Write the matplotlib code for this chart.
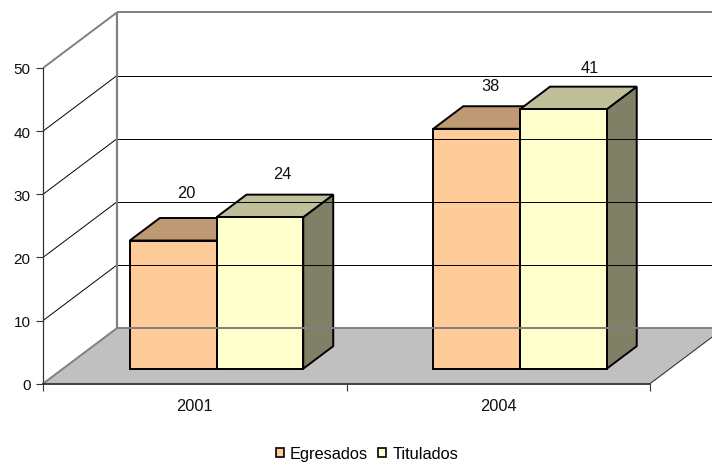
import matplotlib
matplotlib.use('Agg')
import matplotlib.pyplot as plt
from matplotlib.patches import Polygon, Patch

plt.rcParams['font.family'] = ['Liberation Sans', 'DejaVu Sans']

years = ['2001', '2004']
egresados = [20.3, 38]
titulados = [24, 41.1]
y_ticks = [0, 10, 20, 30, 40, 50]

colors = {
    'Egresados': ('#FFCC99', '#BF9973', '#BF9973'),
    'Titulados': ('#FFFFCC', '#BFBF99', '#808066'),
}

W, H = 712, 464
fig = plt.figure(figsize=(W / 100, H / 100), dpi=100)
ax = fig.add_axes([43 / W, 1 - 384.7 / H, 607 / W, 315.7 / H])
ax.set_xlim(0, 2)
ax.set_ylim(0, 50)
ax.patch.set_visible(False)

# depth of the fake 3d box, in axis units
DX = 74 / 303.5
DY = 55.6 / 6.314


def proj(x, y, d):
    return (x + DX * d, y + DY * d)


def poly(points, **kw):
    ax.add_patch(Polygon(points, closed=True, clip_on=False, **kw))


def line(a, b, color, lw):
    ax.plot([a[0], b[0]], [a[1], b[1]], color=color, lw=lw, clip_on=False,
            solid_capstyle='butt')


# floor
poly([proj(0, 0, 0), proj(2, 0, 0), proj(2, 0, 1), proj(0, 0, 1)],
     facecolor='#C0C0C0', edgecolor='none')
line(proj(0, 0, 1), proj(2, 0, 1), '#808080', 1.4)
line(proj(0, 0, 0), proj(0, 0, 1), '#808080', 1.4)
line(proj(2, 0, 0), proj(2, 0, 1), '#222222', 0.7)

# walls and gridlines
for v in y_ticks[1:-1]:
    line(proj(0, v, 0), proj(0, v, 1), 'black', 0.7)
    line(proj(0, v, 1), proj(2, v, 1), 'black', 0.7)
line(proj(0, 50, 0), proj(0, 50, 1), '#808080', 1.4)
line(proj(0, 50, 1), proj(2, 50, 1), '#808080', 1.4)
line(proj(0, 0, 1), proj(0, 50, 1), '#808080', 1.6)

# bars
bar_w = 1 / 3.5
gap = 0.75 * bar_w + 0.006
d0, d1 = 0.27, 0.675


def bar3d(x, v, c):
    kw = dict(edgecolor='black', lw=1.4, joinstyle='miter')
    poly([proj(x + bar_w, 0, d0), proj(x + bar_w, 0, d1), proj(x + bar_w, v, d1), proj(x + bar_w, v, d0)],
         facecolor=c[2], **kw)
    poly([proj(x, v, d0), proj(x + bar_w, v, d0), proj(x + bar_w, v, d1), proj(x, v, d1)],
         facecolor=c[1], **kw)
    poly([proj(x, 0, d0), proj(x + bar_w, 0, d0), proj(x + bar_w, v, d0), proj(x, v, d0)],
         facecolor=c[0], **kw)


# label shift in pixels, from the front-top centre of each bar
label_shift = [(13, 48), (22, 44), (14, 43), (26, 42)]
k = 0
for i in range(len(years)):
    for j, (name, vals) in enumerate([('Egresados', egresados), ('Titulados', titulados)]):
        x = i + gap + j * bar_w
        bar3d(x, vals[i], colors[name])
        ax.annotate('%.0f' % vals[i], proj(x + bar_w / 2, vals[i], d0), xytext=label_shift[k],
                    textcoords='offset pixels', ha='center', va='center', fontsize=11.8,
                    color='#111111', annotation_clip=False)
        k += 1

# axes
for s in ['top', 'right']:
    ax.spines[s].set_visible(False)
ax.spines['left'].set_color('#333333')
ax.spines['left'].set_linewidth(0.9)
ax.spines['bottom'].set_color('#333333')
ax.spines['bottom'].set_linewidth(1.3)
ax.set_yticks(y_ticks)
ax.tick_params(axis='y', length=5, width=0.8, color='#333333', labelsize=11, pad=4, labelcolor='#111111')
ax.set_xticks([0, 1, 2])
ax.set_xticklabels([])
ax.tick_params(axis='x', which='major', length=5, width=0.8, color='#333333')
ax.set_xticks([0.5, 1.5], minor=True)
ax.set_xticklabels(years, minor=True, fontsize=11.8, color='#111111')
ax.tick_params(axis='x', which='minor', length=0, pad=10)

handles = [Patch(facecolor=colors[n][0], edgecolor='black', lw=1.2, label=n) for n in colors]
fig.legend(handles=handles, loc='center', bbox_to_anchor=(367 / W, 1 - 454.5 / H), ncol=2, frameon=False,
           fontsize=11.8, handlelength=0.5, handleheight=0.5, handletextpad=0.37, columnspacing=0.6,
           borderpad=0, borderaxespad=0)

fig.savefig('out.png', dpi=100)
